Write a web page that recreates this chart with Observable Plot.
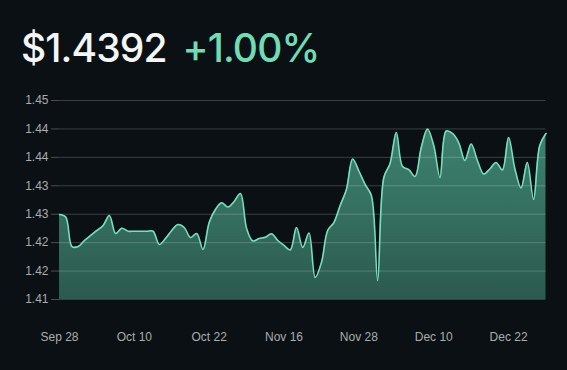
<!DOCTYPE html>
<html>
<head>
<meta charset="utf-8">
<script src="https://cdn.jsdelivr.net/npm/d3@7"></script>
<script src="https://cdn.jsdelivr.net/npm/@observablehq/plot@0.6"></script>
<style>
  html, body { margin: 0; padding: 0; background: #0a1013; width: 567px; height: 370px; overflow: hidden; }
  #title { position: absolute; left: 21px; top: 24px; font-family: Inter, "Open Sans", sans-serif; font-size: 39px; font-weight: 500; letter-spacing: -0.9px; white-space: nowrap; }
  #price { color: #f4f6f6; }
  #change { color: #6fdcb6; margin-left: 16px; }
  #chart { position: absolute; left: 0; top: 80px; }
</style>
</head>
<body>
<div id="title"><span id="price"></span><span id="change"></span></div>
<div id="chart"></div>
<script>
const priceText = "$1.4392";
const changeText = "+1.00%";

const values = [
  1.42995, 1.42951, 1.42432, 1.42432, 1.42538, 1.42626, 1.42714, 1.42802, 1.42977, 1.42661,
  1.42754, 1.42701, 1.42701, 1.42701, 1.42701, 1.42701, 1.42467, 1.42573, 1.42714, 1.42819,
  1.42766, 1.42590, 1.42661, 1.42379, 1.42854, 1.43083, 1.43201, 1.43127, 1.43224, 1.43364,
  1.42749, 1.42529, 1.42573, 1.42596, 1.42656, 1.42538, 1.42450, 1.42371, 1.42766, 1.42415,
  1.42670, 1.41887, 1.42151, 1.42714, 1.42854, 1.43153, 1.43435, 1.43971, 1.43760, 1.43523,
  1.43329, 1.41834, 1.43646, 1.43892, 1.44437, 1.43839, 1.43786, 1.43663, 1.44173, 1.44499,
  1.44209, 1.43646, 1.44464, 1.44420, 1.44261, 1.43945, 1.44235, 1.43945, 1.43707, 1.43795,
  1.43910, 1.43778, 1.44349, 1.43804, 1.43461, 1.43910, 1.43259, 1.44209, 1.44420
];

const xTickIndex = [0, 12, 24, 36, 48, 60, 72];
const xTickLabels = ["Sep 28", "Oct 10", "Oct 22", "Nov 16", "Nov 28", "Dec 10", "Dec 22"];

const yTicks = [1.415, 1.42, 1.425, 1.43, 1.435, 1.44, 1.445, 1.45];
const yTickLabels = ["1.41", "1.42", "1.42", "1.43", "1.43", "1.44", "1.44", "1.45"];

document.getElementById("price").textContent = priceText;
document.getElementById("change").textContent = changeText;

const data = values.map((v, i) => ({i, v}));

const gradient = () => {
  const ns = "http://www.w3.org/2000/svg";
  const defs = document.createElementNS(ns, "defs");
  const lg = document.createElementNS(ns, "linearGradient");
  lg.setAttribute("id", "areaGrad");
  lg.setAttribute("x1", "0"); lg.setAttribute("y1", "0");
  lg.setAttribute("x2", "0"); lg.setAttribute("y2", "1");
  const s1 = document.createElementNS(ns, "stop");
  s1.setAttribute("offset", "0%"); s1.setAttribute("stop-color", "#3e8270");
  const s2 = document.createElementNS(ns, "stop");
  s2.setAttribute("offset", "100%"); s2.setAttribute("stop-color", "#2b5a4e");
  lg.appendChild(s1); lg.appendChild(s2);
  defs.appendChild(lg);
  return defs;
};

const chart = Plot.plot({
  width: 567,
  height: 290,
  marginTop: 20,
  marginBottom: 71,
  marginLeft: 59,
  marginRight: 21.5,
  style: { background: "transparent", color: "#a9adaf", fontFamily: "'Liberation Sans', Arial, sans-serif", fontSize: "12px" },
  x: { type: "linear", domain: [0, values.length - 1] },
  y: { domain: [1.415, 1.45] },
  marks: [
    gradient,
    Plot.areaY(data, {x: "i", y1: 1.415, y2: "v", curve: "catmull-rom", fill: "url(#areaGrad)"}),
    Plot.ruleY(yTicks, {stroke: "#ffffff", strokeOpacity: 0.2, strokeWidth: 1}),
    Plot.lineY(data, {x: "i", y: "v", curve: "catmull-rom", stroke: "#76e0bc", strokeWidth: 1.6}),
    Plot.axisY({ticks: yTicks, tickSize: 8, tickPadding: 3, tickFormat: (d, k) => yTickLabels[k], stroke: "#4a4f52", fill: "#a9adaf", label: null}),
    Plot.axisX({ticks: xTickIndex, tickSize: 0, tickPadding: 33, tickFormat: (d, k) => xTickLabels[k], fill: "#a9adaf", label: null})
  ]
});
document.getElementById("chart").appendChild(chart);
</script>
</body>
</html>
